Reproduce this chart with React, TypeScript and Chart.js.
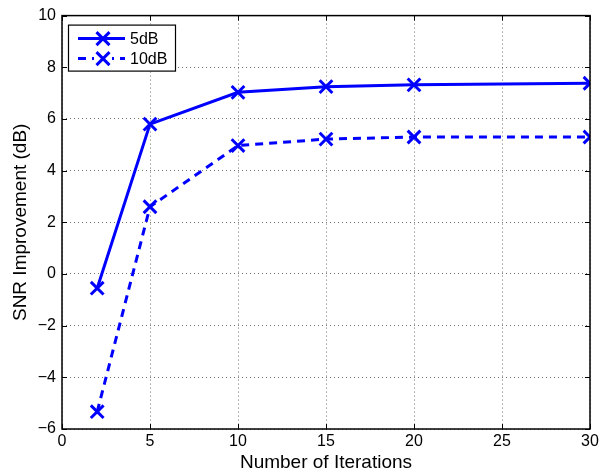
import React, { useEffect, useRef } from "react";
import { Chart, registerables } from "chart.js";

Chart.register(...registerables);

const iterations = [2, 5, 10, 15, 20, 30];
const snr5dB = [-0.55, 5.8, 7.03, 7.25, 7.32, 7.38];
const snr10dB = [-5.33, 2.6, 4.97, 5.22, 5.3, 5.3];
const seriesNames = ["5dB", "10dB"];
const xTitle = "Number of Iterations";
const yTitle = "SNR Improvement (dB)";

const FONT = "'Liberation Sans', Arial, Helvetica, sans-serif";
const BLUE = "#0000ff";

const framePlugin = {
  id: "frameAndLegend",
  afterDatasetsDraw(chart: any) {
    const { ctx, chartArea: a, scales } = chart;
    ctx.save();
    // ticks inward
    ctx.strokeStyle = "#000";
    ctx.lineWidth = 1;
    const tl = 5;
    ctx.beginPath();
    scales.x.ticks.forEach((t: any) => {
      const px = Math.round(scales.x.getPixelForValue(t.value)) + 0.5;
      ctx.moveTo(px, a.bottom);
      ctx.lineTo(px, a.bottom - tl);
      ctx.moveTo(px, a.top);
      ctx.lineTo(px, a.top + tl);
    });
    scales.y.ticks.forEach((t: any) => {
      const py = Math.round(scales.y.getPixelForValue(t.value)) + 0.5;
      ctx.moveTo(a.left, py);
      ctx.lineTo(a.left + tl, py);
      ctx.moveTo(a.right, py);
      ctx.lineTo(a.right - tl, py);
    });
    ctx.stroke();
    // frame
    ctx.lineWidth = 1.5;
    ctx.strokeRect(a.left, a.top, a.right - a.left, a.bottom - a.top);

    // legend
    const lx = a.left + 6;
    const ly = a.top + 9;
    const lw = 107;
    const lh = 46;
    ctx.fillStyle = "#fff";
    ctx.fillRect(lx, ly, lw, lh);
    ctx.lineWidth = 1.2;
    ctx.strokeStyle = "#000";
    ctx.strokeRect(lx + 0.5, ly + 0.5, lw, lh);
    const rows = [ly + 14, ly + 34];
    chart.data.datasets.forEach((ds: any, i: number) => {
      const y = rows[i];
      ctx.strokeStyle = BLUE;
      ctx.lineWidth = 3;
      ctx.setLineDash(i === 1 ? [8, 6] : []);
      ctx.beginPath();
      ctx.moveTo(lx + 10, y);
      ctx.lineTo(lx + 57, y);
      ctx.stroke();
      ctx.setLineDash([]);
      const cx = lx + 35;
      const r = 6.5;
      if (i === 1) {
        ctx.fillStyle = "#fff";
        ctx.fillRect(cx - 9, y - 3, 18, 6);
      }
      ctx.beginPath();
      ctx.moveTo(cx - r, y - r);
      ctx.lineTo(cx + r, y + r);
      ctx.moveTo(cx - r, y + r);
      ctx.lineTo(cx + r, y - r);
      ctx.stroke();
      ctx.fillStyle = "#000";
      ctx.font = `16px ${FONT}`;
      ctx.textAlign = "left";
      ctx.textBaseline = "middle";
      ctx.fillText(ds.label, lx + 62, y + 1);
    });
    ctx.restore();
  },
};

export default function App() {
  const ref = useRef<HTMLCanvasElement>(null);
  useEffect(() => {
    if (!ref.current) return;
    const mk = (arr: number[]) => iterations.map((x, i) => ({ x, y: arr[i] }));
    const chart = new Chart(ref.current, {
      type: "line",
      data: {
        datasets: [
          {
            label: seriesNames[0],
            data: mk(snr5dB),
            borderColor: BLUE,
            backgroundColor: BLUE,
            borderWidth: 3,
            pointStyle: "crossRot",
            pointRadius: 9,
            pointBorderWidth: 3,
            pointBorderColor: BLUE,
            tension: 0,
          },
          {
            label: seriesNames[1],
            data: mk(snr10dB),
            borderColor: BLUE,
            backgroundColor: BLUE,
            borderWidth: 3,
            borderDash: [8, 6],
            pointStyle: "crossRot",
            pointRadius: 9,
            pointBorderWidth: 3,
            pointBorderColor: BLUE,
            tension: 0,
          },
        ],
      },
      options: {
        animation: false,
        responsive: false,
        events: [],
        layout: { padding: { top: 7, right: 10, left: 0, bottom: 0 } },
        plugins: { legend: { display: false }, tooltip: { enabled: false } },
        scales: {
          x: {
            type: "linear",
            min: 0,
            max: 30,
            ticks: {
              stepSize: 5,
              color: "#000",
              font: { family: FONT, size: 16 },
              padding: 3,
              maxRotation: 0,
            },
            grid: { color: "rgba(0,0,0,0.55)", lineWidth: 1, drawTicks: false },
            border: { display: false, dash: [1, 3] },
            title: {
              display: true,
              text: xTitle,
              color: "#000",
              font: { family: FONT, size: 19 },
              padding: { top: 0, bottom: 0 },
            },
            afterFit(s: any) {
              s.height = 45;
            },
          },
          y: {
            type: "linear",
            min: -6,
            max: 10,
            ticks: {
              stepSize: 2,
              color: "#000",
              font: { family: FONT, size: 16 },
              padding: 6,
              callback: (v: any) => String(v).replace("-", "\u2212"),
            },
            grid: { color: "rgba(0,0,0,0.55)", lineWidth: 1, drawTicks: false },
            border: { display: false, dash: [1, 3] },
            title: {
              display: true,
              text: yTitle,
              color: "#000",
              font: { family: FONT, size: 19 },
              padding: { top: 9, bottom: 0 },
            },
            afterFit(s: any) {
              s.width = 62;
            },
          },
        },
      },
      plugins: [framePlugin],
    } as any);
    return () => chart.destroy();
  }, []);
  return (
    <div style={{ position: "absolute", left: 0, top: 0, width: 602, height: 474, background: "#fff" }}>
      <canvas ref={ref} width={602} height={474} />
    </div>
  );
}
